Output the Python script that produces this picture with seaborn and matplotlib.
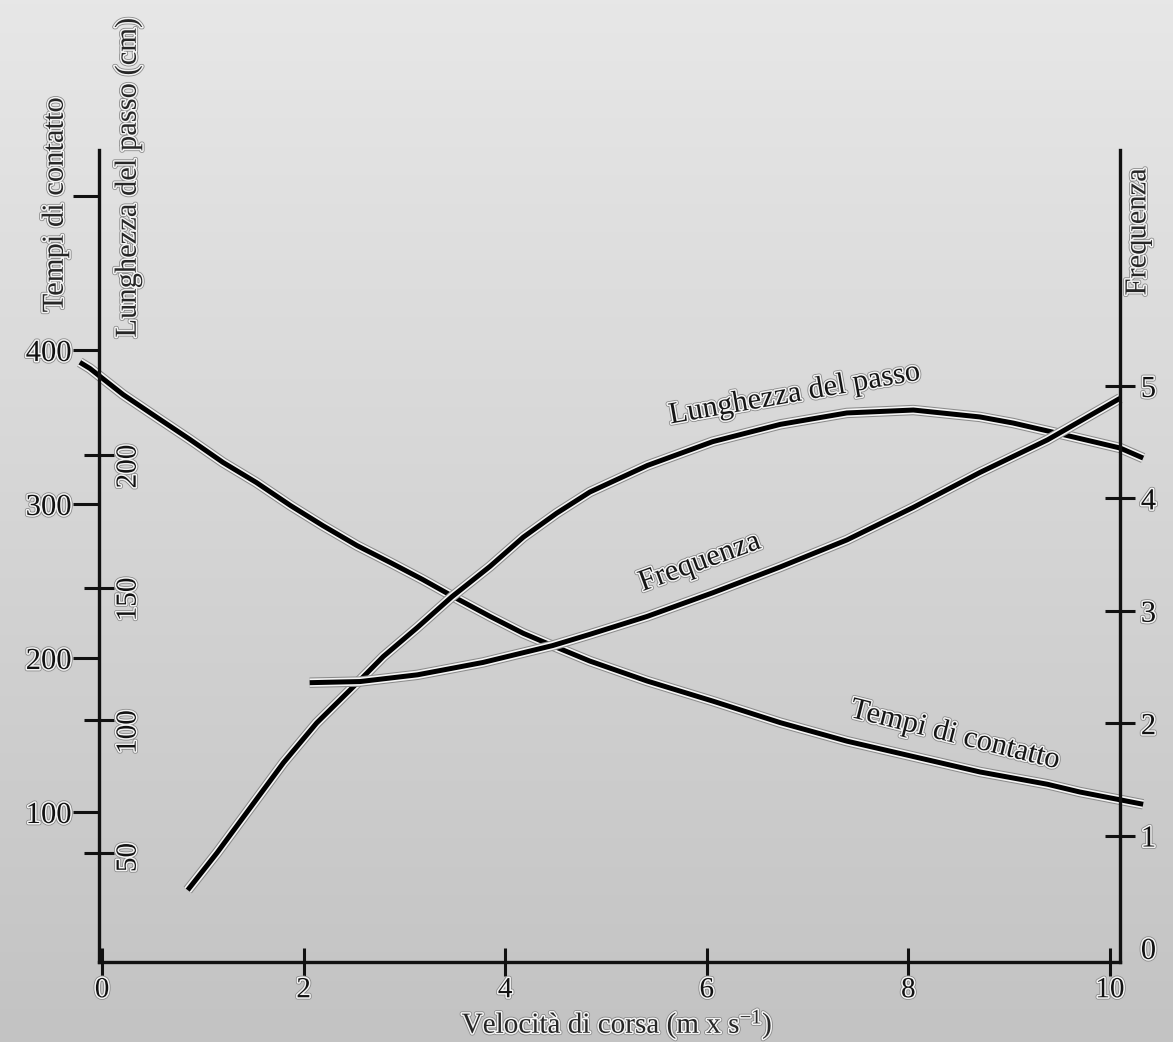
import numpy as np
import matplotlib
matplotlib.use('Agg')
import matplotlib.pyplot as plt
import matplotlib.patheffects as pe
from matplotlib.colors import LinearSegmentedColormap
import seaborn as sns
import pandas as pd

# ---------------- data ----------------
speed_tempi = [-0.22, -0.12, 0.21, 0.55, 0.87, 1.20, 1.53, 1.87, 2.19, 2.53, 2.86, 3.18, 3.48,
               3.85, 4.18, 4.47, 4.84, 5.41, 6.06, 6.73, 7.39, 8.05, 8.71, 9.38, 9.70, 10.33]
tempi = [392, 388, 371, 356, 342, 327, 314, 299, 286, 273, 262, 251, 240,
         227, 216, 208, 198, 185, 172, 158, 146, 136, 126, 118, 113, 105]

speed_passo = [0.85, 1.14, 1.47, 1.80, 2.13, 2.53, 2.79, 3.13, 3.47, 3.85, 4.18, 4.51, 4.84,
               5.41, 6.06, 6.73, 7.39, 8.05, 8.71, 9.04, 9.43, 10.10, 10.33]
passo = [36, 50, 67, 84, 99, 114, 124, 135, 146.5, 158, 169, 178, 186,
         196, 205, 211.5, 215.8, 216.9, 214.3, 212, 208.6, 202.6, 198.8]

speed_freq = [2.06, 2.56, 3.13, 3.78, 4.47, 4.84, 5.41, 6.06, 6.73, 7.39, 8.05, 8.71, 9.38, 10.10]
freq = [2.36, 2.37, 2.43, 2.54, 2.69, 2.79, 2.95, 3.16, 3.39, 3.63, 3.92, 4.23, 4.52, 4.89]

x_ticks = [0, 2, 4, 6, 8, 10]
tempi_ticks = [100, 200, 300, 400, 500]
tempi_ticklabels = ['100', '200', '300', '400', '']
passo_ticks = [50, 100, 150, 200]
freq_ticks = [0, 1, 2, 3, 4, 5]

df_t = pd.DataFrame({'v': speed_tempi, 'y': tempi})
df_p = pd.DataFrame({'v': speed_passo, 'y': passo})
df_f = pd.DataFrame({'v': speed_freq, 'y': freq})

# ---------------- style ----------------
sns.set_style('ticks')
plt.rcParams['font.family'] = ['Liberation Serif', 'DejaVu Serif']
plt.rcParams['mathtext.fontset'] = 'custom'
plt.rcParams['mathtext.rm'] = 'Liberation Serif'
plt.rcParams['mathtext.it'] = 'Liberation Serif:italic'
plt.rcParams['text.color'] = '#151515'

halo_line = [pe.Stroke(linewidth=7.5, foreground='#8c8c8c'),
             pe.Stroke(linewidth=6.0, foreground='#f4f4f4'),
             pe.Normal()]
halo_text = [pe.Stroke(linewidth=3.4, foreground='#8c8c8c'),
             pe.Stroke(linewidth=2.2, foreground='#f4f4f4'),
             pe.Normal()]

fig = plt.figure(figsize=(11.73, 10.42), dpi=100)

# gradient background
bg = fig.add_axes([0, 0, 1, 1], zorder=-10)
grad = np.linspace(0, 1, 256)[:, None]
bg.imshow(grad, aspect='auto', extent=[0, 1, 0, 1],
          cmap=LinearSegmentedColormap.from_list('g', ['#e7e7e7', '#c3c3c3']))
bg.axis('off')

ax = fig.add_axes([0.0844, 0.0768, 0.8704, 0.7793])
ax.patch.set_alpha(0)
ax2 = ax.twinx()
ax3 = ax.twinx()

lw = 3.6
sns.lineplot(data=df_t, x='v', y='y', ax=ax, color='black', lw=lw, estimator=None, sort=False)
sns.lineplot(data=df_p, x='v', y='y', ax=ax2, color='black', lw=lw, estimator=None, sort=False)
sns.lineplot(data=df_f, x='v', y='y', ax=ax3, color='black', lw=lw, estimator=None, sort=False)
for a in (ax, ax2, ax3):
    for ln in a.lines:
        ln.set_clip_on(False)
        ln.set_path_effects(halo_line)
        ln.set_solid_capstyle('butt')
        ln.set_solid_joinstyle('round')

ax.set_xlim(-0.03, 10.1)
ax.set_ylim(2.6, 529.9)
ax2.set_ylim(8.93, 314.9)
ax3.set_ylim(-0.125, 7.10)

# spines
for s in ['top', 'right']:
    ax.spines[s].set_visible(False)
for s in ['left', 'bottom']:
    ax.spines[s].set_linewidth(2.4)
    ax.spines[s].set_color('#111111')
for s in ax2.spines.values():
    s.set_visible(False)
ax2.spines['right'].set_position(('axes', 0.0))
for s in ['top', 'left', 'bottom']:
    ax3.spines[s].set_visible(False)
ax3.spines['right'].set_linewidth(2.4)
ax3.spines['right'].set_color('#111111')

# ticks
ax.set_xticks(x_ticks)
ax.set_xticklabels([str(t) for t in x_ticks])
ax.set_yticks(tempi_ticks)
ax.set_yticklabels(tempi_ticklabels)
ax2.set_yticks(passo_ticks)
ax2.set_yticklabels([str(t) for t in passo_ticks])
ax3.set_yticks(freq_ticks)
ax3.set_yticklabels([str(t) for t in freq_ticks])

ax.tick_params(axis='x', direction='inout', length=20, width=2.2, pad=1, labelsize=21, colors='#111111')
ax.tick_params(axis='y', direction='out', length=19, width=2.2, pad=1, labelsize=22, colors='#111111')
ax2.tick_params(axis='y', direction='inout', length=22, width=2.2, pad=1, labelsize=21,
                labelrotation=90, colors='#111111')
ax3.tick_params(axis='y', direction='inout', length=22, width=2.2, pad=4, labelsize=22, colors='#111111')
ax3.yaxis.get_major_ticks()[0].tick2line.set_visible(False)

for a in (ax, ax2, ax3):
    for lab in a.get_xticklabels() + a.get_yticklabels():
        lab.set_path_effects(halo_text)

# axis labels
ax.set_ylabel('Tempi di contatto', fontsize=22)
ax.yaxis.set_label_coords(-0.0431, 0.932)
ax2.set_ylabel('Lunghezza del passo (cm)', fontsize=22)
ax2.yaxis.set_label_coords(0.0284, 0.9655)
ax3.set_ylabel('Frequenza', fontsize=22)
ax3.yaxis.set_label_coords(1.0176, 0.899)
ax.set_xlabel('Velocità di corsa (m x s$^{-1}$)', fontsize=21)
ax.xaxis.set_label_coords(0.5073, -0.0775)
for lbl in (ax.yaxis.label, ax2.yaxis.label, ax3.yaxis.label, ax.xaxis.label):
    lbl.set_va('center')
    lbl.set_ha('center')
    lbl.set_rotation_mode('anchor')
    lbl.set_path_effects(halo_text)
for lbl in (ax.yaxis.label, ax2.yaxis.label, ax3.yaxis.label):
    lbl.set_rotation(90)

# curve labels
kw = dict(fontsize=22, ha='center', va='center', rotation_mode='anchor', path_effects=halo_text)
ax2.text(6.87, 223, 'Lunghezza del passo', rotation=10, **kw)
ax3.text(5.93, 3.43, 'Frequenza', rotation=20, **kw)
ax.text(8.46, 150, 'Tempi di contatto', rotation=-14, **kw)

fig.savefig('out.png', dpi=100)
